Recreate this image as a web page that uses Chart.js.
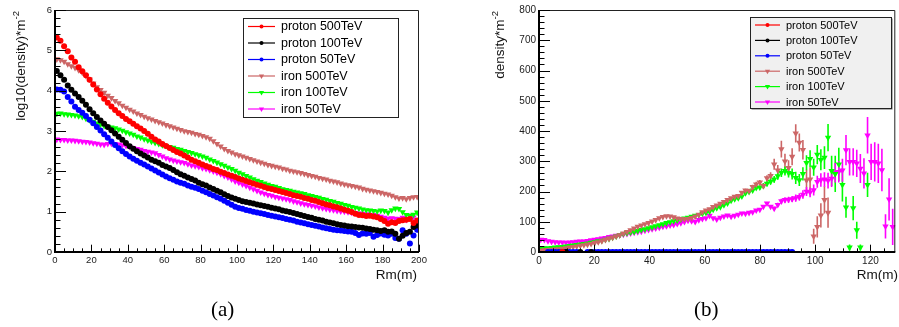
<!DOCTYPE html>
<html><head><meta charset="utf-8">
<script src="https://cdn.jsdelivr.net/npm/chart.js@4.4.1/dist/chart.umd.min.js"></script>
<style>
html,body{margin:0;padding:0;background:#fff;}
body{width:899px;height:327px;position:relative;overflow:hidden;}
#ca{position:absolute;left:0;top:0;}
#cb{position:absolute;left:460px;top:0;}
.cap{position:absolute;font-family:"Liberation Serif","Times New Roman",serif;font-size:21px;color:#000;line-height:1;}
</style></head><body>
<canvas id="ca" width="450" height="327"></canvas>
<canvas id="cb" width="439" height="327"></canvas>
<div class="cap" style="left:211px;top:299px">(a)</div>
<div class="cap" style="left:694px;top:299px">(b)</div>
<script>
const n = null;
const labels = ['proton 500TeV','proton 100TeV','proton 50TeV','iron 500TeV','iron 100TeV','iron 50TeV'];

// ---------- panel (a): log10(density) vs Rm ----------
const xA = [1,3,5,7,9,11,13,15,17,19, 21,23,25,27,29,31,33,35,37,39, 41,43,45,47,49,51,53,55,57,59,
  61,63,65,67,69,71,73,75,77,79, 81,83,85,87,89,91,93,95,97,99, 101,103,105,107,109,111,113,115,117,119,
  121,123,125,127,129,131,133,135,137,139, 141,143,145,147,149,151,153,155,157,159,
  161,163,165,167,169,171,173,175,177,179, 181,183,185,187,189,191,193,195,197,199];
const p500a = [5.32,5.24,5.10,4.98,4.82,4.72,4.58,4.48,4.38,4.27, 4.15,4.03,3.91,3.80,3.70,3.61,3.52,3.44,3.37,3.30,
  3.24,3.18,3.12,3.06,3.00,2.93,2.86,2.79,2.74,2.68, 2.63,2.58,2.53,2.48,2.44,2.39,2.34,2.29,2.25,2.21,
  2.17,2.13,2.10,2.06,2.03,1.99,1.96,1.92,1.89,1.86, 1.82,1.79,1.76,1.73,1.70,1.67,1.64,1.61,1.58,1.56,
  1.54,1.51,1.49,1.46,1.44,1.41,1.39,1.37,1.34,1.32, 1.29,1.27,1.24,1.21,1.18,1.16,1.13,1.11,1.08,1.05,
  1.02,0.99,0.95,0.92,0.91,0.89,0.90,0.88,0.86,0.82, 0.77,0.70,0.74,0.72,0.77,0.79,0.80,0.82,0.72,0.78];
const p100a = [4.49,4.38,4.27,4.13,4.02,3.93,3.84,3.75,3.65,3.54, 3.44,3.35,3.26,3.18,3.10,3.02,2.94,2.86,2.78,2.70,
  2.62,2.56,2.50,2.44,2.39,2.34,2.29,2.25,2.21,2.16, 2.12,2.08,2.03,1.98,1.93,1.89,1.85,1.81,1.77,1.72,
  1.68,1.65,1.60,1.56,1.52,1.48,1.43,1.39,1.35,1.32, 1.29,1.26,1.24,1.22,1.20,1.18,1.16,1.14,1.12,1.10,
  1.08,1.06,1.03,1.01,0.99,0.97,0.94,0.92,0.89,0.87, 0.85,0.82,0.80,0.78,0.75,0.73,0.71,0.69,0.67,0.66,
  0.64,0.63,0.62,0.61,0.60,0.58,0.57,0.55,0.54,0.52, 0.54,0.50,0.51,0.45,0.33,0.40,0.47,0.50,0.62,0.66];
const p50a = [4.03,4.02,3.98,3.84,3.73,3.60,3.52,3.45,3.37,3.28, 3.19,3.10,3.01,2.92,2.83,2.74,2.65,2.57,2.50,2.43,
  2.37,2.31,2.26,2.21,2.17,2.12,2.07,2.02,1.97,1.92, 1.87,1.83,1.79,1.75,1.72,1.69,1.65,1.62,1.59,1.56,
  1.52,1.48,1.44,1.40,1.36,1.32,1.27,1.22,1.17,1.12, 1.09,1.07,1.04,1.02,1.00,0.98,0.96,0.94,0.92,0.90,
  0.88,0.86,0.84,0.82,0.80,0.78,0.75,0.73,0.71,0.69, 0.67,0.65,0.63,0.61,0.59,0.57,0.55,0.54,0.53,0.52,
  0.51,0.50,0.47,0.42,0.46,0.45,0.47,0.38,0.42,0.46, 0.43,0.41,0.45,0.35,0.33,0.54,0.45,0.21,0.41,0.55];
const fe500a = [4.78,4.76,4.72,4.66,4.61,4.57,4.51,4.45,4.37,4.28, 4.18,4.09,4.02,3.95,3.88,3.82,3.75,3.69,3.63,3.58,
  3.53,3.49,3.44,3.40,3.36,3.32,3.29,3.25,3.22,3.19, 3.15,3.12,3.09,3.06,3.03,3.00,2.98,2.96,2.93,2.91,
  2.88,2.85,2.81,2.75,2.68,2.62,2.56,2.51,2.47,2.43, 2.40,2.37,2.34,2.31,2.28,2.25,2.22,2.19,2.16,2.14,
  2.12,2.10,2.07,2.05,2.02,2.00,1.98,1.96,1.94,1.91, 1.89,1.87,1.84,1.82,1.80,1.77,1.75,1.73,1.70,1.68,
  1.66,1.64,1.62,1.60,1.57,1.55,1.53,1.51,1.49,1.47, 1.45,1.43,1.40,1.36,1.33,1.34,1.31,1.34,1.36,1.37];
const fe100a = [3.43,3.44,3.42,3.41,3.40,3.39,3.37,3.35,3.31,3.27, 3.23,3.19,3.16,3.13,3.11,3.09,3.07,3.04,3.01,2.97,
  2.94,2.91,2.87,2.84,2.80,2.77,2.74,2.71,2.68,2.65, 2.63,2.61,2.59,2.56,2.54,2.51,2.48,2.46,2.43,2.40,
  2.37,2.34,2.30,2.26,2.22,2.18,2.14,2.10,2.06,2.02, 1.97,1.93,1.89,1.85,1.81,1.77,1.74,1.70,1.67,1.64,
  1.62,1.59,1.56,1.54,1.52,1.50,1.48,1.46,1.44,1.41, 1.39,1.37,1.35,1.32,1.30,1.27,1.25,1.22,1.20,1.17,
  1.15,1.12,1.10,1.08,1.06,1.04,1.03,1.02,1.01,1.03, 1.02,0.98,1.04,1.08,1.07,0.99,0.92,0.90,0.93,0.98];
const fe50a = [2.79,2.78,2.78,2.77,2.77,2.76,2.75,2.74,2.73,2.72, 2.70,2.69,2.67,2.66,2.68,2.69,2.68,2.67,2.65,2.63,
  2.61,2.58,2.56,2.54,2.51,2.49,2.47,2.45,2.41,2.37, 2.33,2.30,2.27,2.25,2.23,2.21,2.18,2.15,2.13,2.11,
  2.08,2.06,2.03,2.00,1.97,1.93,1.89,1.85,1.80,1.75, 1.72,1.68,1.64,1.60,1.56,1.52,1.48,1.45,1.42,1.40,
  1.37,1.35,1.33,1.31,1.29,1.26,1.24,1.21,1.19,1.17, 1.15,1.13,1.11,1.09,1.07,1.05,1.04,1.02,1.01,1.00,
  0.99,0.98,0.97,0.96,0.95,0.94,0.93,0.92,0.90,0.88, 0.85,0.83,0.84,0.83,0.82,0.85,0.80,0.90,0.86,0.75];
const xTicksA = [0,20,40,60,80,100,120,140,160,180,200];
const yTicksA = [0,1,2,3,4,5,6];

// ---------- panel (b): density vs Rm ----------
const xB = [0.65,1.95,3.25,4.55,5.85,7.15,8.45,9.75,11.05,12.35, 13.65,14.95,16.25,17.55,18.85,20.15,21.45,22.75,24.05,25.35,
  26.65,27.95,29.25,30.55,31.85,33.15,34.45,35.75,37.05,38.35, 39.65,40.95,42.25,43.55,44.85,46.15,47.45,48.75,50.05,51.35,
  52.65,53.95,55.25,56.55,57.85,59.15,60.45,61.75,63.05,64.35, 65.65,66.95,68.25,69.55,70.85,72.15,73.45,74.75,76.05,77.35,
  78.65,79.95,81.25,82.55,83.85,85.15,86.45,87.75,89.05,90.35, 91.65,92.95,94.25,95.55,96.85,98.15,99.45,100.75,102.05,103.35,
  104.65,105.95,107.25,108.55,109.85,111.15,112.45,113.75,115.05,116.35, 117.65,118.95,120.25,121.55,122.85,124.15,125.45,126.75,128.05];
const p500b = [n,n,n,n,n,n,0,n,n,n, n,n,n,n,n,n,n,n,n,n, n,n,n,n,n,n,n,n,n,n, n,n,n,n,n,n,n,n,n,n,
  n,n,n,n,n,n,n,n,n,n, n,n,n,n,n,n,n,n,n,n, n,n,n,n,n,n,n,n,n,n, n,n,n,n,n,n,n,n,n,n,
  n,n,n,n,n,n,n,n,n,n, n,n,n,n,n,n,n,n,n];
const p100b = [n,n,n,n,n,n,n,0,n,n, n,0,n,n,0,n,n,n,n,n, n,n,n,n,n,n,n,n,n,n, n,n,n,n,n,n,n,n,n,n,
  n,n,n,n,n,n,n,n,n,n, n,n,n,n,n,n,n,n,n,n, n,n,n,n,n,n,n,n,n,n, n,n,n,n,n,n,n,n,n,n,
  n,n,n,n,n,n,n,n,n,n, n,n,n,n,n,n,n,n,n];
const p50b = [n,n,0,0,0,0,0,0,0,0, 0,n,n,0,0,0,0,0,0,0, 0,0,0,0,0,0,0,0,0,0, 0,0,0,0,0,0,0,0,0,0,
  0,0,0,0,0,0,0,0,0,0, 0,0,0,0,0,0,0,0,0,0, 0,0,0,0,0,0,0,0,0,0, 0,n,n,n,n,n,n,n,n,n,
  n,n,n,n,n,n,n,n,n,n, n,n,n,n,n,n,n,n,n];
const fe500b = [5,6,7,8,9,10,11,13,15,17, 19,21,23,25,27,30,33,36,40,44, 48,52,56,62,67,72,78,84,88,92,
  96,101,106,112,116,119,118,115,111,110, 109,110,113,118,124,132,138,142,149,154,
  160,166,172,178,183,186,196,204,202,215, 224,230,219,244,252,290,270,340,300,278,
  315,392,362,338,237,240,52,83,121,172, 130,n,n,n,n,n,n,n,n,n, n,n,n,n,n,n,n,n,n];
const fe500bErr = [0,0,0,0,0,0,0,0,0,0, 0,0,0,0,0,0,0,0,0,0, 0,0,0,0,0,0,0,0,0,0, 0,0,0,0,0,0,0,0,0,0,
  0,0,0,0,0,0,0,0,0,0, 0,0,0,0,0,0,0,5,6,7, 8,8,9,10,12,18,18,28,25,25,
  28,30,30,32,35,40,25,35,40,45, 50,0,0,0,0,0,0,0,0,0, 0,0,0,0,0,0,0,0,0];
const fe100b = [12,12,13,14,15,16,17,19,20,22, 24,25,27,29,31,33,36,38,41,44, 48,52,56,60,63,65,67,70,73,76,
  79,82,86,89,92,96,99,102,105,108, 111,114,117,120,123,127,130,134,140,145,
  149,155,161,170,175,178,184,195,199,204, 212,214,219,226,233,240,251,262,268,262,
  258,245,238,258,295,308,280,322,305,312, 378,268,258,290,222,148,15,145,72,15,
  n,222,n,n,n,n,n,n,n];
const fe100bErr = [0,0,0,0,0,0,0,0,0,0, 0,0,0,0,0,0,0,0,0,0, 0,0,0,0,0,0,0,0,0,0, 0,0,0,0,0,0,0,0,0,0,
  0,0,0,0,0,0,0,0,0,0, 0,0,0,0,0,0,0,0,0,0, 6,7,8,9,10,11,12,14,15,16,
  18,20,20,22,25,28,28,32,35,38, 45,50,60,55,55,35,10,40,28,10, 0,40,0,0,0,0,0,0,0];
const fe50b = [41,40,36,34,33,32,32,31,32,33, 34,35,35,37,39,41,43,45,47,50, 52,54,56,58,60,62,64,66,68,71,
  73,76,78,81,84,86,88,90,93,96, 100,104,102,100,106,110,112,120,112,108,
  114,118,121,117,120,124,128,127,130,132, 138,140,150,161,150,144,156,168,172,173,
  175,178,182,190,200,197,205,232,238,240, 236,243,262,265,270,337,298,298,293,276,
  260,386,298,298,293,271,85,174,83];
const fe50bErr = [0,0,0,0,0,0,0,0,0,0, 0,0,0,0,0,0,0,0,0,0, 0,0,0,0,0,0,0,0,0,0, 0,0,0,0,0,0,0,0,0,0,
  0,0,0,0,0,0,0,0,0,0, 0,0,0,0,0,0,0,0,0,0, 0,0,0,0,0,6,7,8,9,10,
  10,12,12,14,15,16,18,20,22,24, 26,28,32,35,38,50,45,45,45,48, 50,60,60,65,65,70,40,70,60];
const xTicksB = [0,20,40,60,80,100,120];
const yTicksB = [0,100,200,300,400,500,600,700,800];

const colors = ['#ff0000','#000000','#0000ff','#cc6666','#00ff00','#ff00ff'];
const styles = ['circle','circle','circle','tri','tri','tri'];

function mkDs(i, xs, ys, errs) {
  const tri = styles[i] === 'tri';
  return {
    label: labels[i],
    data: xs.map((x, k) => ({x: x, y: ys[k]})),
    backgroundColor: colors[i], borderColor: colors[i],
    pointStyle: tri ? 'triangle' : 'circle', rotation: tri ? 180 : 0,
    pointRadius: tri ? 3.7 : 3.0, pointBorderWidth: 0, pointHoverRadius: 0,
    showLine: false, errors: errs || null
  };
}

const rootPlugin = {
  id: 'root',
  beforeDatasetsDraw(chart) {
    const c = chart.ctx, a = chart.chartArea, xs = chart.scales.x, ys = chart.scales.y;
    c.save();
    c.beginPath(); c.rect(a.left, a.top, a.right - a.left, a.bottom - a.top); c.clip();
    chart.data.datasets.forEach(ds => {
      if (!ds.errors) return;
      c.strokeStyle = ds.backgroundColor; c.lineWidth = 1.6;
      ds.data.forEach((p, j) => {
        const e = ds.errors[j];
        if (p.y === null || !e) return;
        const px = xs.getPixelForValue(p.x);
        c.beginPath();
        c.moveTo(px, ys.getPixelForValue(p.y - e));
        c.lineTo(px, ys.getPixelForValue(p.y + e));
        c.stroke();
      });
    });
    c.restore();
  },
  afterDraw(chart, args, o) {
    const c = chart.ctx, a = chart.chartArea, xs = chart.scales.x, ys = chart.scales.y;
    c.save();
    c.strokeStyle = '#222'; c.lineWidth = 1;
    c.beginPath();
    c.moveTo(a.left, a.top + 0.5); c.lineTo(a.right - 0.5, a.top + 0.5); c.lineTo(a.right - 0.5, a.bottom);
    c.stroke();
    c.strokeStyle = '#000'; c.lineWidth = 1; c.beginPath();
    const nx = Math.round((xs.max - xs.min) / o.xMinor);
    for (let k = 0; k <= nx; k++) {
      const v = xs.min + k * o.xMinor; if (v > xs.max + 1e-9) break;
      const px = Math.round(xs.getPixelForValue(v)) + 0.5;
      const len = (k % o.xRatio === 0) ? o.xLen : o.xLen / 2;
      c.moveTo(px, a.bottom); c.lineTo(px, a.bottom - len);
    }
    const ny = Math.round((ys.max - ys.min) / o.yMinor);
    for (let k = 0; k <= ny; k++) {
      const v = ys.min + k * o.yMinor;
      const py = Math.round(ys.getPixelForValue(v)) + 0.5;
      const len = (k % o.yRatio === 0) ? o.yLen : o.yLen / 2;
      c.moveTo(a.left, py); c.lineTo(a.left + len, py);
    }
    c.stroke();
    c.lineWidth = 2; c.beginPath();
    c.moveTo(a.left, a.top); c.lineTo(a.left, a.bottom); c.lineTo(a.right, a.bottom);
    c.stroke();
    c.fillStyle = '#111';
    const tf = '13.5px "Liberation Sans", Arial, sans-serif';
    const sf = '9.5px "Liberation Sans", Arial, sans-serif';
    c.font = tf; c.textAlign = 'right'; c.textBaseline = 'alphabetic';
    c.fillText(o.xTitle.text, o.xTitle.right, o.xTitle.base);
    c.save();
    c.translate(o.yTitle.x, o.yTitle.top); c.rotate(-Math.PI / 2);
    c.font = sf; const sw = c.measureText(o.yTitle.sup).width;
    c.textAlign = 'left'; c.fillText(o.yTitle.sup, -sw, -6);
    c.font = tf; c.textAlign = 'right'; c.fillText(o.yTitle.text, -sw, 0);
    c.restore();
    const L = o.legend;
    if (L.shadow) { c.fillStyle = '#666'; c.fillRect(L.x + 1.5, L.y + 1.5, L.w, L.h); }
    c.fillStyle = L.fill; c.fillRect(L.x, L.y, L.w, L.h);
    c.strokeStyle = '#222'; c.lineWidth = 1; c.strokeRect(L.x + 0.5, L.y + 0.5, L.w, L.h);
    c.font = L.font + 'px "Liberation Sans", Arial, sans-serif';
    c.textAlign = 'left'; c.textBaseline = 'middle';
    chart.data.datasets.forEach((ds, i) => {
      const yy = L.row0 + i * L.rowH;
      c.strokeStyle = ds.backgroundColor; c.lineWidth = 1.2;
      c.beginPath(); c.moveTo(L.l0, yy); c.lineTo(L.l1, yy); c.stroke();
      const mx = (L.l0 + L.l1) / 2;
      c.fillStyle = ds.backgroundColor;
      c.beginPath();
      if (ds.pointStyle === 'circle') { c.arc(mx, yy, 2, 0, Math.PI * 2); }
      else { c.moveTo(mx - 2.6, yy - 1.5); c.lineTo(mx + 2.6, yy - 1.5); c.lineTo(mx, yy + 3); c.closePath(); }
      c.fill();
      c.fillStyle = '#000';
      c.fillText(ds.label, L.tx, yy + 0.5);
    });
    c.restore();
  }
};

function mkOptions(cfg) {
  return {
    responsive: false, animation: false, devicePixelRatio: 1,
    layout: {padding: {left: 0, top: 10, right: cfg.padRight, bottom: 0}},
    events: [],
    plugins: {legend: {display: false}, tooltip: {enabled: false}, root: cfg.root},
    scales: {
      x: {type: 'linear', min: cfg.xmin, max: cfg.xmax,
        afterFit: s => { s.height = 75; },
        afterBuildTicks: s => { s.ticks = cfg.xTicks.map(v => ({value: v})); },
        grid: {display: false, drawTicks: false}, border: {display: false},
        ticks: {padding: 3, color: '#222', font: {family: '"Liberation Sans", Arial, sans-serif', size: cfg.tickFont}, maxRotation: 0, autoSkip: false}},
      y: {type: 'linear', min: cfg.ymin, max: cfg.ymax,
        afterFit: s => { s.width = cfg.yWidth; },
        afterBuildTicks: s => { s.ticks = cfg.yTicks.map(v => ({value: v})); },
        grid: {display: false, drawTicks: false}, border: {display: false},
        ticks: {padding: 3, color: '#222', font: {family: '"Liberation Sans", Arial, sans-serif', size: cfg.tickFont}, autoSkip: false}}
    }
  };
}

new Chart(document.getElementById('ca'), {
  type: 'scatter',
  data: {datasets: [mkDs(0, xA, p500a), mkDs(1, xA, p100a), mkDs(2, xA, p50a),
                    mkDs(3, xA, fe500a), mkDs(4, xA, fe100a), mkDs(5, xA, fe50a)]},
  options: mkOptions({padRight: 31, yWidth: 55, xmin: 0, xmax: 200, ymin: 0, ymax: 6,
    xTicks: xTicksA, yTicks: yTicksA, tickFont: 9.5,
    root: {xMinor: 5, xRatio: 4, xLen: 7.3, yMinor: 0.2, yRatio: 5, yLen: 11,
      xTitle: {text: 'Rm(m)', right: 417, base: 279},
      yTitle: {text: 'log10(density)*m', sup: '-2', x: 25, top: 11},
      legend: {x: 243, y: 18, w: 155, h: 99, fill: '#ffffff', shadow: false, font: 12.5,
        row0: 26.5, rowH: 16.5, l0: 248, l1: 275, tx: 281}}}),
  plugins: [rootPlugin]
});

new Chart(document.getElementById('cb'), {
  type: 'scatter',
  data: {datasets: [mkDs(0, xB, p500b), mkDs(1, xB, p100b), mkDs(2, xB, p50b),
                    mkDs(3, xB, fe500b, fe500bErr), mkDs(4, xB, fe100b, fe100bErr), mkDs(5, xB, fe50b, fe50bErr)]},
  options: mkOptions({padRight: 0, yWidth: 79, xmin: 0, xmax: 129, ymin: 0, ymax: 800,
    xTicks: xTicksB, yTicks: yTicksB, tickFont: 10,
    root: {xMinor: 5, xRatio: 4, xLen: 7.3, yMinor: 20, yRatio: 5, yLen: 11,
      xTitle: {text: 'Rm(m)', right: 438, base: 279},
      yTitle: {text: 'density*m', sup: '-2', x: 44, top: 11},
      legend: {x: 290, y: 17, w: 141, h: 91, fill: '#f0f0f0', shadow: true, font: 11,
        row0: 25, rowH: 15.4, l0: 295, l1: 320, tx: 326}}}),
  plugins: [rootPlugin]
});
</script>
</body></html>
